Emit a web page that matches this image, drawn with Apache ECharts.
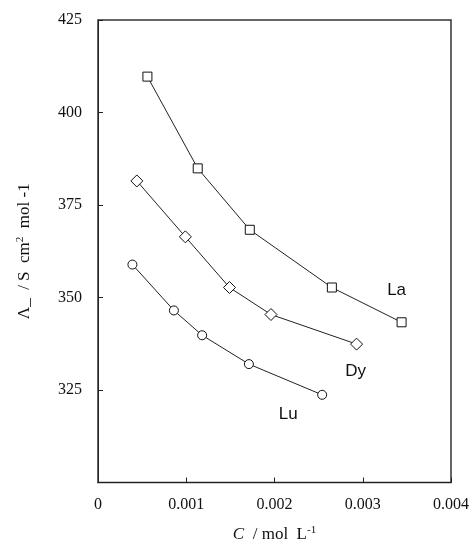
<!DOCTYPE html>
<html>
<head>
<meta charset="utf-8">
<script src="https://cdn.jsdelivr.net/npm/echarts@6/dist/echarts.min.js"></script>
<style>
  html, body { margin: 0; padding: 0; background: #fff; }
  #chart { width: 472px; height: 548px; }
</style>
</head>
<body>
<div id="chart"></div>
<script>
  // concentration C / mol L-1 and molar conductivity for each ion
  let laC = [0.00056, 0.00113, 0.00172, 0.00265, 0.00344]
  let laVal = [409.7, 384.9, 368.3, 352.7, 343.3]
  let dyC = [0.00044, 0.00099, 0.00149, 0.00196, 0.00293]
  let dyVal = [381.5, 366.4, 352.7, 345.4, 337.4]
  let luC = [0.00039, 0.00086, 0.00118, 0.00171, 0.00254]
  let luVal = [358.9, 346.5, 339.8, 332.0, 323.7]
  let xTicks = [0, 0.001, 0.002, 0.003, 0.004]
  let yTicks = [300, 325, 350, 375, 400, 425]

  let serif = '"Liberation Serif", "Times New Roman", serif'

  function makeSeries(name, xs, ys, symbol, symbolSize, labelOffset) {
    let data = xs.map((x, i) => {
      let item = { value: [x, ys[i]] }
      if (i === xs.length - 1) {
        item.label = {
          show: true,
          formatter: name,
          position: 'inside',
          offset: labelOffset,
          fontFamily: '"Liberation Sans", Arial, sans-serif',
          fontSize: 17,
          color: '#111'
        }
      }
      return item
    })
    return {
      name: name,
      type: 'line',
      data: data,
      symbol: symbol,
      symbolSize: symbolSize,
      showAllSymbol: true,
      lineStyle: { color: '#222', width: 1 },
      itemStyle: { color: '#fff', borderColor: '#111', borderWidth: 1 },
      label: { show: false },
      emphasis: { disabled: true },
      animation: false,
      z: 3
    }
  }

  let chart = echarts.init(document.getElementById('chart'))
  let option = {
    backgroundColor: '#fff',
    animation: false,
    grid: {
      left: 98,
      right: 15,
      top: 20,
      bottom: 63,
      show: true,
      borderColor: '#333',
      borderWidth: 1.5
    },
    xAxis: {
      type: 'value',
      min: xTicks[0],
      max: xTicks[xTicks.length - 1],
      interval: 0.001,
      name: '{i|C}  / mol  L{s|-1}',
      nameLocation: 'middle',
      nameGap: 42,
      nameTextStyle: {
        fontFamily: serif,
        fontSize: 17,
        color: '#111',
        rich: {
          i: { fontFamily: serif, fontStyle: 'italic', fontSize: 17, color: '#111' },
          s: { fontFamily: serif, fontSize: 11, color: '#111', verticalAlign: 'top', padding: [0, 0, 9, 0] }
        }
      },
      axisLine: { show: true, lineStyle: { color: '#222', width: 1 } },
      axisTick: { show: true, inside: true, length: 5, lineStyle: { color: '#222' } },
      splitLine: { show: false },
      axisLabel: {
        fontFamily: serif,
        fontSize: 16,
        color: '#111',
        margin: 14,
        formatter: v => (v === 0 ? '0' : v.toFixed(3))
      }
    },
    yAxis: {
      type: 'value',
      min: yTicks[0],
      max: yTicks[yTicks.length - 1],
      interval: 25,
      name: 'Λ_  / S  cm{s|2}  mol -1',
      nameLocation: 'middle',
      nameGap: 63,
      nameTextStyle: {
        fontFamily: serif,
        fontSize: 17,
        color: '#111',
        rich: {
          s: { fontFamily: serif, fontSize: 11, color: '#111', verticalAlign: 'top', padding: [0, 0, 9, 0] }
        }
      },
      axisLine: { show: true, lineStyle: { color: '#222', width: 1 } },
      axisTick: { show: true, inside: true, length: 5, lineStyle: { color: '#222' } },
      splitLine: { show: false },
      axisLabel: {
        fontFamily: serif,
        fontSize: 16,
        color: '#111',
        margin: 16,
        formatter: v => (v === 300 ? '' : String(v))
      }
    },
    series: [
      makeSeries('La', laC, laVal, 'rect', 9, [-5, -32]),
      makeSeries('Dy', dyC, dyVal, 'diamond', 12, [-1, 27]),
      makeSeries('Lu', luC, luVal, 'circle', 9, [-34, 20])
    ]
  }
  chart.setOption(option)
</script>
</body>
</html>
